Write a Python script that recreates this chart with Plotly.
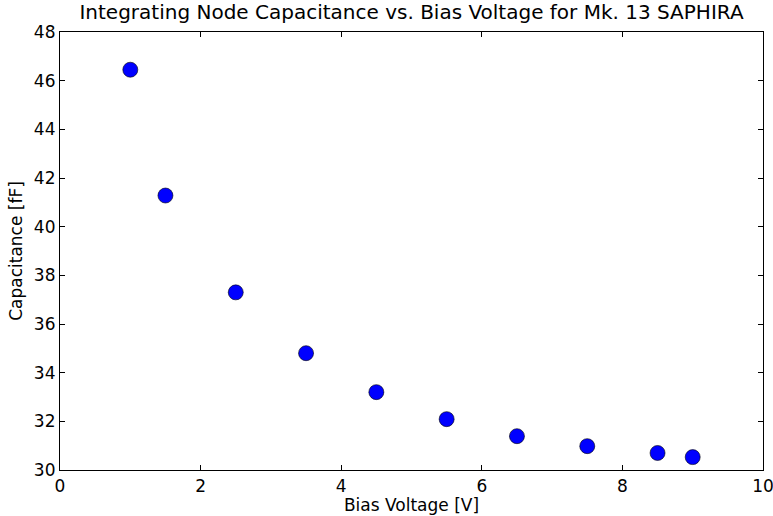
import plotly.graph_objects as go

bias_voltage = [1.0, 1.5, 2.5, 3.5, 4.5, 5.5, 6.5, 7.5, 8.5, 9.0]
capacitance = [46.45, 41.28, 37.30, 34.80, 33.20, 32.09, 31.39, 30.98, 30.70, 30.53]

fig = go.Figure()
fig.add_trace(go.Scatter(
    x=bias_voltage, y=capacitance, mode="markers",
    marker=dict(color="#0000ff", size=15, line=dict(color="black", width=0.6)),
    showlegend=False, cliponaxis=False,
))

axis_common = dict(
    showline=True, linecolor="black", linewidth=1.2, mirror="ticks",
    ticks="inside", ticklen=5, tickcolor="black", tickwidth=1,
    showgrid=False, zeroline=False, automargin=False,
    ticklabeloverflow="allow",
    tickfont=dict(family="DejaVu Sans", size=17, color="black"),
)

fig.update_layout(
    width=773, height=516,
    margin=dict(l=60, r=10, t=32, b=46, autoexpand=False),
    paper_bgcolor="white", plot_bgcolor="white",
    title=dict(text="Integrating Node Capacitance vs. Bias Voltage for Mk. 13 SAPHIRA",
               x=0.5, xanchor="center", xref="paper", y=1, yref="container",
               yanchor="top", pad=dict(t=5),
               font=dict(family="DejaVu Sans", size=20, color="black")),
    xaxis=dict(range=[0, 10], dtick=2, tick0=0,
               title=dict(text="Bias Voltage [V]", standoff=4,
                          font=dict(family="DejaVu Sans", size=17, color="black")),
               **axis_common),
    yaxis=dict(range=[30, 48], dtick=2, tick0=30,
               title=dict(text="Capacitance [fF]", standoff=6,
                          font=dict(family="DejaVu Sans", size=17, color="black")),
               **axis_common),
)

fig.write_html("out.html")
